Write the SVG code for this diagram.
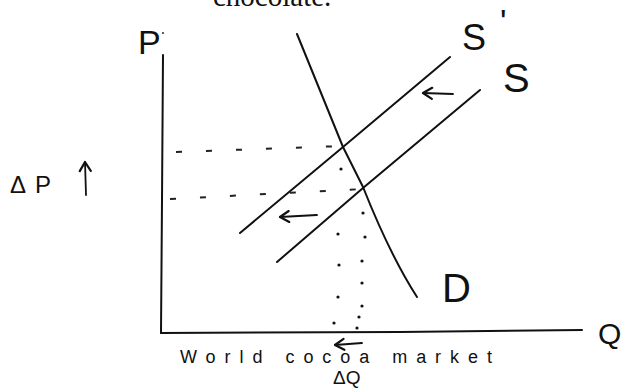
<svg xmlns="http://www.w3.org/2000/svg" width="636" height="388" viewBox="0 0 636 388">
  <style>
    .ink { fill: none; stroke: #111; stroke-width: 2; stroke-linecap: round; stroke-linejoin: round; }
    .thin { fill: none; stroke: #111; stroke-width: 1.8; stroke-linecap: round; stroke-linejoin: round; }
    .dash { fill: none; stroke: #222; stroke-width: 2; stroke-dasharray: 6 24; }
    .dot { fill: #111; }
    .hand { font-family: "Liberation Sans", Arial, sans-serif; fill: #111; }
    .print { font-family: "Liberation Serif", "Times New Roman", serif; fill: #111; }
  </style>
  <defs>
    <marker id="head" viewBox="0 0 14 14" refX="12" refY="7" markerWidth="14" markerHeight="14" markerUnits="userSpaceOnUse" orient="auto">
      <path d="M3,1.5 L12,7 L3,12.5" fill="none" stroke="#111" stroke-width="2.2" stroke-linecap="round" stroke-linejoin="round"/>
    </marker>
  </defs>
  <rect width="636" height="388" fill="#fff"/>

  <text class="print" x="213" y="6" font-size="29">chocolate.</text>

  <g id="axes">
    <path class="ink" d="M163,55 L162,200 L161,333"/>
    <path class="ink" d="M161,333 L400,332 L582,330"/>
    <circle class="dot" cx="163" cy="33" r="0.9"/>
  </g>

  <g id="axis-labels">
    <text class="hand" x="138" y="54" font-size="34">P</text>
    <text class="hand" x="598" y="344" font-size="30">Q</text>
    <text class="hand" x="180" y="363" font-size="18" textLength="312" lengthAdjust="spacing">World cocoa market</text>
    <text class="hand" x="10" y="193" font-size="24" letter-spacing="9">ΔP</text>
    <text class="hand" x="333" y="384" font-size="19">ΔQ</text>
  </g>

  <g id="demand">
    <path class="ink" d="M297,34 L343,147 L363,187 Q390,255 417,297"/>
    <text class="hand" x="442" y="302" font-size="40">D</text>
  </g>

  <g id="supply-new">
    <path class="ink" d="M240,233 L343,147 L450,57"/>
    <text class="hand" x="462" y="50" font-size="36">S</text>
    <text class="hand" x="500" y="33" font-size="34">'</text>
  </g>

  <g id="supply">
    <path class="ink" d="M277,262 L363,188 L480,90"/>
    <text class="hand" x="503" y="92" font-size="40">S</text>
  </g>

  <g id="connectors">
    <path class="dash" d="M176,152 L343,146"/>
    <path class="dash" d="M170,199 L363,189"/>
    <g id="dots-left">
      <circle class="dot" cx="341" cy="169" r="1.6"/>
      <circle class="dot" cx="338" cy="234" r="1.6"/>
      <circle class="dot" cx="339" cy="265" r="1.6"/>
      <circle class="dot" cx="338" cy="297" r="1.6"/>
      <circle class="dot" cx="334" cy="323" r="1.6"/>
    </g>
    <g id="dots-right">
      <circle class="dot" cx="363" cy="213" r="1.6"/>
      <circle class="dot" cx="365" cy="237" r="1.6"/>
      <circle class="dot" cx="362" cy="261" r="1.6"/>
      <circle class="dot" cx="362" cy="283" r="1.6"/>
      <circle class="dot" cx="362" cy="306" r="1.6"/>
      <circle class="dot" cx="359" cy="317" r="1.6"/>
      <circle class="dot" cx="357" cy="328" r="1.6"/>
    </g>
    <path class="thin" d="M453,94 L423,93" marker-end="url(#head)"/>
    <path class="thin" d="M317,215 L280,217" marker-end="url(#head)"/>
    <path class="thin" d="M362,343 L335,345" marker-end="url(#head)"/>
    <path class="thin" d="M86,195 L85,162" marker-end="url(#head)"/>
  </g>
</svg>
